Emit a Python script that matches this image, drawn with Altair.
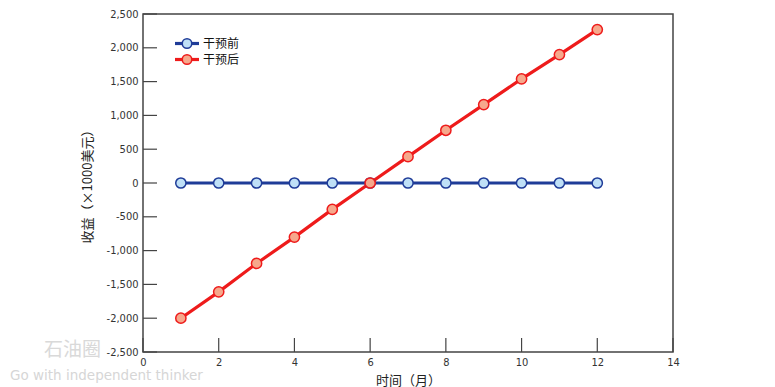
import altair as alt
import pandas as pd

months = [1, 2, 3, 4, 5, 6, 7, 8, 9, 10, 11, 12]
before = [0, 0, 0, 0, 0, 0, 0, 0, 0, 0, 0, 0]
after = [-2000, -1610, -1190, -800, -390, 0, 390, 780, 1160, 1540, 1900, 2270]
series_names = ["干预前", "干预后"]
y_ticks = [-2500, -2000, -1500, -1000, -500, 0, 500, 1000, 1500, 2000, 2500]
x_ticks = [0, 2, 4, 6, 8, 10, 12, 14]

line_colors = ["#1f3c98", "#ee1b1b"]
fill_colors = ["#bfe0f7", "#f6a88c"]

rows = []
for m, b, a in zip(months, before, after):
    rows.append({"series": series_names[0], "month": m, "value": b})
    rows.append({"series": series_names[1], "month": m, "value": a})
df = pd.DataFrame(rows)

W, H = 530, 338
FONT = "'DejaVu Sans Condensed', 'Liberation Sans Narrow', 'Roboto Condensed', sans-serif"
CJK = "Noto Sans CJK SC"

xs = alt.Scale(domain=[0, 14], nice=False, zero=False)
ys = alt.Scale(domain=[-2500, 2500], nice=False)

label_expr = "replace(format(datum.value, ','), '\u2212', '-')"

x_axis = alt.Axis(values=x_ticks, tickSize=0, grid=False, domain=False,
                  labelFont=FONT, labelFontSize=11, labelColor="#333",
                  labelPadding=4, labelOverlap=False, labelFlush=False,
                  title="时间（月）", titleFont=CJK,
                  titleFontSize=13, titleFontWeight="normal",
                  titleColor="#222", titlePadding=7)
y_axis = alt.Axis(values=y_ticks, tickSize=0, grid=False, domain=False,
                  labelFont=FONT, labelFontSize=11, labelColor="#333",
                  labelPadding=5, labelExpr=label_expr, labelOverlap=False,
                  labelFlush=False,
                  title="收益（×1000美元）", titleFont=CJK,
                  titleFontSize=13, titleFontWeight="normal",
                  titleColor="#222", titlePadding=12)

color_scale = alt.Scale(domain=series_names, range=line_colors)
fill_scale = alt.Scale(domain=series_names, range=fill_colors)

lines = alt.Chart(df).mark_line(strokeWidth=3.2).encode(
    x=alt.X("month:Q", scale=xs, axis=x_axis),
    y=alt.Y("value:Q", scale=ys, axis=y_axis),
    color=alt.Color("series:N", scale=color_scale, legend=None),
    order=alt.Order("month:Q"),
)
points = alt.Chart(df).mark_point(filled=False, size=105, strokeWidth=1.5, opacity=1).encode(
    x=alt.X("month:Q", scale=xs, axis=x_axis),
    y=alt.Y("value:Q", scale=ys, axis=y_axis),
    stroke=alt.Stroke("series:N", scale=color_scale, legend=None),
    fill=alt.Fill("series:N", scale=fill_scale, legend=None),
    fillOpacity=alt.value(1),
)

# inward ticks
ytick_df = pd.DataFrame({"value": y_ticks})
xtick_df = pd.DataFrame({"month": x_ticks})
yticks = alt.Chart(ytick_df).mark_rule(color="#444", strokeWidth=1.2).encode(
    y=alt.Y("value:Q", scale=ys, axis=y_axis), x=alt.value(0), x2=alt.value(14))
xticks = alt.Chart(xtick_df).mark_rule(color="#444", strokeWidth=1.2).encode(
    x=alt.X("month:Q", scale=xs, axis=x_axis), y=alt.value(H), y2=alt.value(H - 14))

# manual legend
leg_layers = []
for i, name in enumerate(series_names):
    ld = pd.DataFrame({"series": [name]})
    yy = 29.5 + 16 * i
    leg_layers.append(alt.Chart(ld).mark_rule(color=line_colors[i], strokeWidth=3.2).encode(
        x=alt.value(32), x2=alt.value(56), y=alt.value(yy)))
    leg_layers.append(alt.Chart(ld).mark_point(filled=True, size=90, strokeWidth=1.5,
                                               stroke=line_colors[i], fill=fill_colors[i],
                                               opacity=1).encode(
        x=alt.value(44), y=alt.value(yy)))
    leg_layers.append(alt.Chart(ld).mark_text(align="left", baseline="middle", font=CJK,
                                              fontSize=12, color="#111").encode(
        x=alt.value(60), y=alt.value(yy), text="series:N"))

# watermark
wm_df = pd.DataFrame({"t": ["石油圈"]})
wm1 = alt.Chart(wm_df).mark_text(align="left", baseline="middle", font=CJK, fontSize=19,
                                 color="#d9d9d9").encode(
    x=alt.value(-99), y=alt.value(336), text="t:N")
wm_df2 = pd.DataFrame({"t": ["Go with independent thinker"]})
wm2 = alt.Chart(wm_df2).mark_text(align="left", baseline="middle", font="DejaVu Sans", fontSize=13.5,
                                  color="#d6d6d6").encode(
    x=alt.value(-133), y=alt.value(362), text="t:N")

chart = alt.layer(lines, points, yticks, xticks, *leg_layers, wm1, wm2).properties(
    width=W, height=H,
    autosize=alt.AutoSizeParams(type="none"),
    padding={"left": 135, "top": 6, "right": 90, "bottom": 35},
).configure(background="white").configure_view(stroke="#444", strokeWidth=1.5)

chart.save("out.html", embed_options={"renderer": "svg", "actions": False})
